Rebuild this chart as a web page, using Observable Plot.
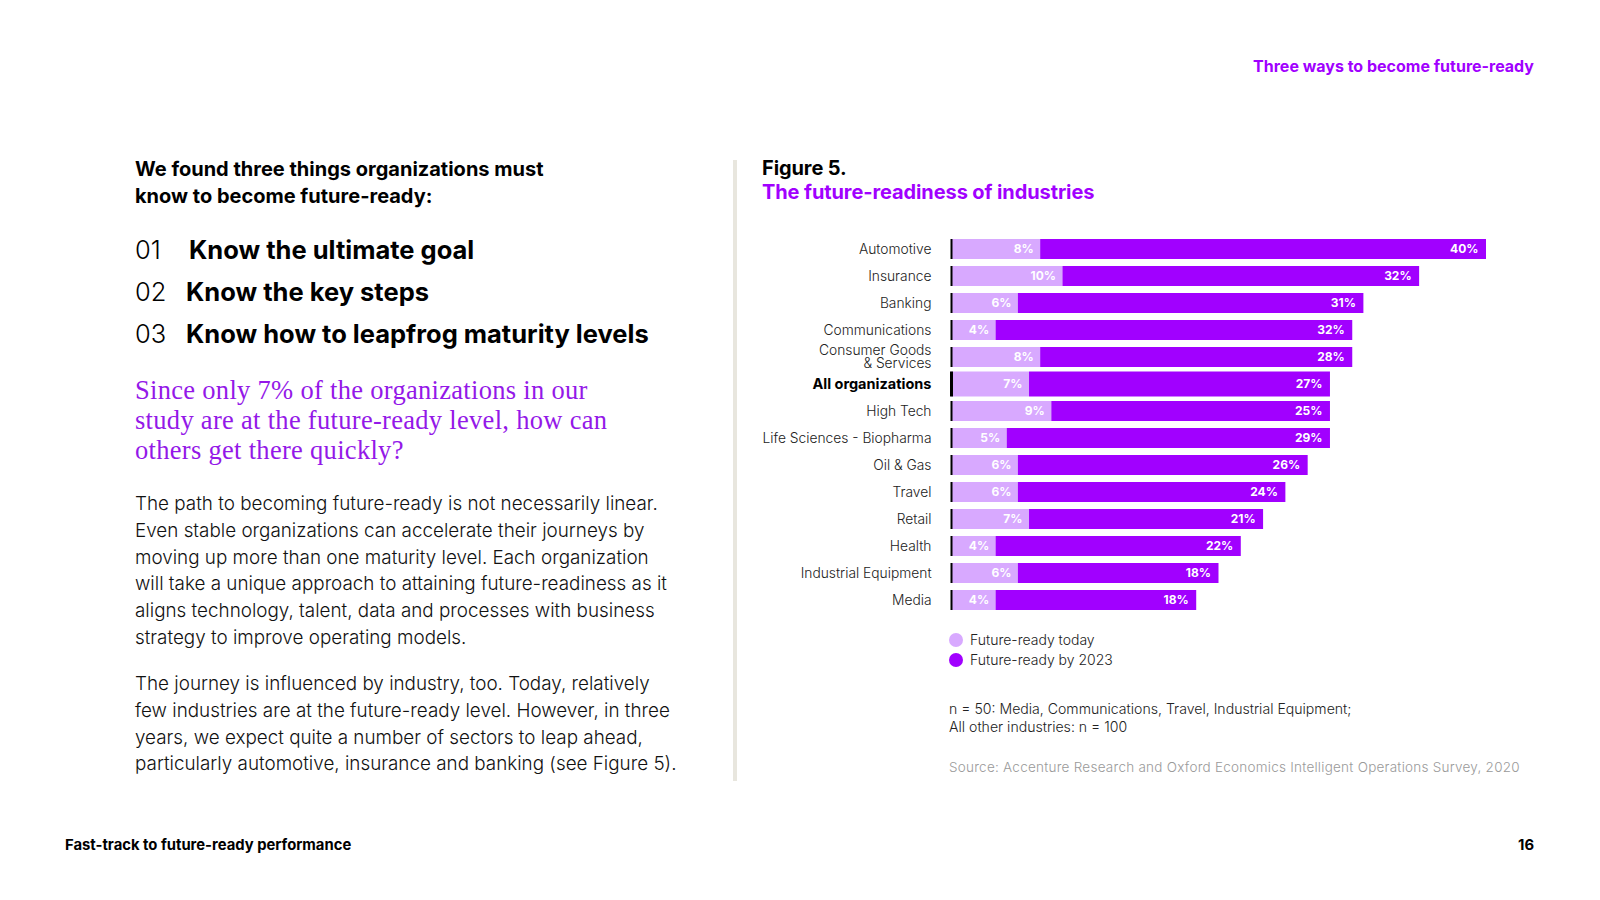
<!DOCTYPE html>
<html>
<head>
<meta charset="utf-8">
<script src="https://cdn.jsdelivr.net/npm/d3@7"></script>
<script src="https://cdn.jsdelivr.net/npm/@observablehq/plot@0.6"></script>
<style>
  html, body { margin: 0; padding: 0; background: #fff; }
  body { width: 1600px; height: 900px; position: relative; overflow: hidden; font-family: Inter, Roboto, "Noto Sans", sans-serif; color: #000; }
  .abs { position: absolute; white-space: nowrap; }
  #header { right: 66px; top: 56px; font-size: 16px; font-weight: 700; color: #a100ff; line-height: 20px; }
  #intro { left: 135px; top: 156px; font-size: 20px; font-weight: 700; line-height: 27px; }
  #list { left: 135px; top: 229px; font-size: 25.5px; line-height: 42px; }
  #list .n { display: inline-block; width: 51px; font-weight: 300; }
  #list .t { font-weight: 700; }
  #question { left: 135px; top: 375px; font-family: "Liberation Serif", "DejaVu Serif", serif; font-size: 26.5px; line-height: 30px; color: #9418e8; letter-spacing: 0.3px; }
  .para { left: 135px; font-size: 18.85px; font-weight: 300; line-height: 26.8px; color: #111; }
  #p1 { top: 491px; }
  #p2 { top: 671px; }
  #divider { left: 733px; top: 160px; width: 4px; height: 621px; background: #e8e6de; }
  #figtitle { left: 762px; top: 156px; font-size: 20px; font-weight: 700; line-height: 24px; letter-spacing: -0.1px; }
  #figtitle .sub { color: #a100ff; }
  #chart { left: 740px; top: 220px; }
  #legend { left: 949px; top: 630px; font-size: 14px; line-height: 20px; color: #222; font-weight: 300; }
  #legend .sw { display: inline-block; width: 14px; height: 14px; border-radius: 50%; vertical-align: -2px; margin-right: 7px; }
  #note { left: 949px; top: 700px; font-size: 14.1px; line-height: 18px; color: #222; font-weight: 300; }
  #source { left: 949px; top: 758px; font-size: 13.5px; line-height: 18px; color: #9a9a9a; font-weight: 300; letter-spacing: 0.25px; }
  #footer { left: 65px; top: 836px; font-size: 14.8px; font-weight: 700; line-height: 18px; }
  #page { right: 66px; top: 836px; font-size: 14.8px; font-weight: 700; line-height: 18px; }
</style>
</head>
<body>
<script>
// ---- data ----
const industries = ["Automotive", "Insurance", "Banking", "Communications", "Consumer Goods\n& Services", "All organizations", "High Tech", "Life Sciences - Biopharma", "Oil & Gas", "Travel", "Retail", "Health", "Industrial Equipment", "Media"];
const readyToday = [8, 10, 6, 4, 8, 7, 9, 5, 6, 6, 7, 4, 6, 4];
const readyBy2023 = [40, 32, 31, 32, 28, 27, 25, 29, 26, 24, 21, 22, 18, 18];
const seriesNames = ["Future-ready today", "Future-ready by 2023"];
const seriesColors = ["#d8a9ff", "#a100ff"];
const highlight = "All organizations";
</script>

<div id="header" class="abs">Three ways to become future-ready</div>
<div id="intro" class="abs">We found three things organizations must<br>know to become future-ready:</div>
<div id="list" class="abs">
  <div><span class="n">01</span><span class="t" style="margin-left:3px">Know the ultimate goal</span></div>
  <div><span class="n">02</span><span class="t">Know the key steps</span></div>
  <div><span class="n">03</span><span class="t">Know how to leapfrog maturity levels</span></div>
</div>
<div id="question" class="abs">Since only 7% of the organizations in our<br>study are at the future-ready level, how can<br>others get there quickly?</div>
<div id="p1" class="abs para">The path to becoming future-ready is not necessarily linear.<br>Even stable organizations can accelerate their journeys by<br>moving up more than one maturity level. Each organization<br>will take a unique approach to attaining future-readiness as it<br>aligns technology, talent, data and processes with business<br>strategy to improve operating models.</div>
<div id="p2" class="abs para">The journey is influenced by industry, too. Today, relatively<br>few industries are at the future-ready level. However, in three<br>years, we expect quite a number of sectors to leap ahead,<br>particularly automotive, insurance and banking (see Figure 5).</div>
<div id="divider" class="abs"></div>
<div id="figtitle" class="abs">Figure 5.<br><span class="sub">The future-readiness of industries</span></div>
<div id="chart" class="abs"></div>
<div id="legend" class="abs"></div>
<div id="note" class="abs">n = 50: Media, Communications, Travel, Industrial Equipment;<br>All other industries: n = 100</div>
<div id="source" class="abs">Source: Accenture Research and Oxford Economics Intelligent Operations Survey, 2020</div>
<div id="footer" class="abs">Fast-track to future-ready performance</div>
<div id="page" class="abs">16</div>

<script>
const rows = industries.map((name, i) => ({
  name,
  today: readyToday[i],
  future: readyBy2023[i],
  total: readyToday[i] + readyBy2023[i]
}));
const normal = rows.filter(d => d.name !== highlight);
const hl = rows.filter(d => d.name === highlight);

const chart = Plot.plot({
  width: 800,
  height: 400,
  marginLeft: 211,
  marginRight: 54,
  marginTop: 18,
  marginBottom: 10,
  style: { background: "transparent", fontFamily: "Inter, Roboto, 'Noto Sans', sans-serif" },
  x: { domain: [0, 48], axis: null },
  y: { domain: industries, axis: null, paddingInner: 0.26, paddingOuter: 0 },
  marks: [
    Plot.barX(normal, { y: "name", x1: 0, x2: "today", fill: seriesColors[0] }),
    Plot.barX(normal, { y: "name", x1: "today", x2: "total", fill: seriesColors[1] }),
    Plot.barX(hl, { y: "name", x1: 0, x2: "today", fill: seriesColors[0], insetTop: -2.5, insetBottom: -2.5 }),
    Plot.barX(hl, { y: "name", x1: "today", x2: "total", fill: seriesColors[1], insetTop: -2.5, insetBottom: -2.5 }),
    Plot.tickX(normal, { x: 0, y: "name", stroke: "#000", strokeWidth: 2 }),
    Plot.tickX(hl, { x: 0, y: "name", stroke: "#000", strokeWidth: 3, insetTop: -2.5, insetBottom: -2.5 }),
    Plot.text(rows, { x: "today", y: "name", text: d => d.today + "%", textAnchor: "end", dx: -7, fill: "#fff", fontWeight: 700, fontSize: 12 }),
    Plot.text(rows, { x: "total", y: "name", text: d => d.future + "%", textAnchor: "end", dx: -8, fill: "#fff", fontWeight: 700, fontSize: 12 }),
    Plot.text(normal, { x: 0, y: "name", text: "name", textAnchor: "end", dx: -20, fill: "#222", fontSize: 13.8, fontWeight: 300, lineHeight: 0.96 }),
    Plot.text(hl, { x: 0, y: "name", text: "name", textAnchor: "end", dx: -20, fill: "#000", fontWeight: 700, fontSize: 14.5 })
  ]
});
document.getElementById("chart").appendChild(chart);

const legend = document.getElementById("legend");
seriesNames.forEach((s, i) => {
  const row = document.createElement("div");
  row.innerHTML = `<span class="sw" style="background:${seriesColors[i]}"></span>${s}`;
  legend.appendChild(row);
});
</script>
</body>
</html>
